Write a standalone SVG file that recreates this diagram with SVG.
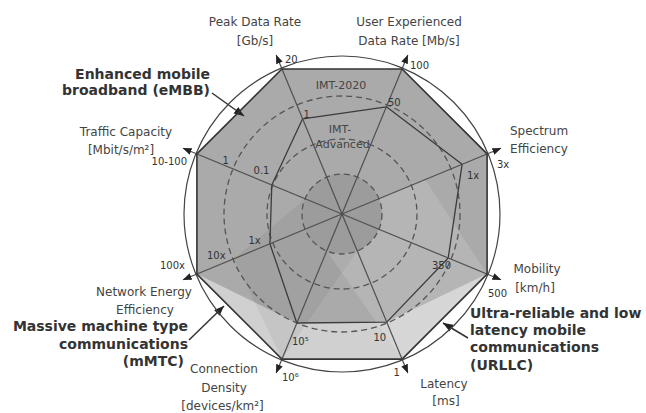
<svg xmlns="http://www.w3.org/2000/svg" width="646" height="413" viewBox="0 0 646 413">
  <defs>
    <marker id="spokeHead" markerUnits="userSpaceOnUse" markerWidth="10" markerHeight="8" refX="8.5" refY="3.5" orient="auto">
      <path d="M0,0 L9,3.5 L0,7 z" fill="#222"/>
    </marker>
    <marker id="calloutHead" markerUnits="userSpaceOnUse" markerWidth="12" markerHeight="10" refX="10" refY="4" orient="auto">
      <path d="M0,0 L10,4 L0,8 z" fill="#222"/>
    </marker>
    <style>
      .title { font-family: "DejaVu Sans", "Liberation Sans", sans-serif; font-size: 12px; fill: #444; }
      .val { font-family: "DejaVu Sans", "Liberation Sans", sans-serif; font-size: 10px; fill: #333; }
      .imt { font-family: "DejaVu Sans", "Liberation Sans", sans-serif; font-size: 11px; fill: #444; }
      .scen { font-family: "DejaVu Sans", "Liberation Sans", sans-serif; font-size: 14px; font-weight: bold; fill: #333; }
      .mid { text-anchor: middle; }
      .end { text-anchor: end; }
      .spoke { stroke: #505050; stroke-width: 1.2; fill: none; }
      .ring { stroke: #555; stroke-width: 1.3; fill: none; stroke-dasharray: 6 4; }
      .adv { stroke: #3c3c3c; stroke-width: 1.3; fill: none; stroke-linejoin: round; }
      .callout { stroke: #333; stroke-width: 1.5; fill: none; }
    </style>
  </defs>

  <!-- shaded capability areas -->
  <g id="shading">
    <polygon id="imt2020-area" points="196.9,153.9 281.9,69 402.1,69 487.1,153.9 487.1,274.1 402.1,359.1 281.9,359.1 196.9,274.1" fill="#d0d0d0"/>
    <polygon id="embb-area" points="196.9,153.9 281.9,69 402.1,69 487.1,153.9 487.1,274.1 386.8,322.1 296.8,323 196.9,274.1" fill="#000" fill-opacity="0.18"/>
    <polygon id="mmtc-area" points="305,198.7 326.7,177 357.3,177 379,198.7 379,229.3 357.3,251 281.9,359.1 233.9,258.8" fill="#000" fill-opacity="0.05"/>
    <polygon id="urllc-area" points="342,214 425.1,179.6 487.1,274.1 402.1,359.1 326.7,251" fill="#fff" fill-opacity="0.13"/>
    <circle id="core-area" cx="342" cy="214" r="40" fill="#9c9c9c"/>
  </g>

  <!-- reference rings -->
  <g id="rings">
    <circle class="ring" cx="342" cy="214" r="40"/>
    <circle class="ring" cx="342" cy="214" r="75"/>
    <circle class="ring" cx="342" cy="214" r="118"/>
  </g>

  <!-- IMT-Advanced outline -->
  <g id="imt-advanced">
    <polygon class="adv" points="271.8,184.9 302.6,118.8 386.4,106.8 462.1,164.3 448.2,258 386.8,322.1 296.8,323 269.9,243.8"/>
  </g>

  <!-- axes and callout arrows -->
  <g id="connectors">
    <line class="spoke" x1="342" y1="214" x2="276.2" y2="55.1" marker-end="url(#spokeHead)"/>
    <line class="spoke" x1="342" y1="214" x2="407.8" y2="55.1" marker-end="url(#spokeHead)"/>
    <line class="spoke" x1="342" y1="214" x2="500.9" y2="148.2" marker-end="url(#spokeHead)"/>
    <line class="spoke" x1="342" y1="214" x2="500.9" y2="279.8" marker-end="url(#spokeHead)"/>
    <line class="spoke" x1="342" y1="214" x2="407.8" y2="372.9" marker-end="url(#spokeHead)"/>
    <line class="spoke" x1="342" y1="214" x2="276.2" y2="372.9" marker-end="url(#spokeHead)"/>
    <line class="spoke" x1="342" y1="214" x2="183.1" y2="279.8" marker-end="url(#spokeHead)"/>
    <line class="spoke" x1="342" y1="214" x2="183.1" y2="148.2" marker-end="url(#spokeHead)"/>
    <line class="callout" x1="212" y1="93" x2="244" y2="116" marker-end="url(#calloutHead)"/>
    <line class="callout" x1="189" y1="340" x2="224" y2="306" marker-end="url(#calloutHead)"/>
    <line class="callout" x1="468" y1="338" x2="443" y2="323" marker-end="url(#calloutHead)"/>
  </g>

  <!-- IMT-2020 outline and bounding circle -->
  <g id="frame">
    <polygon points="196.9,153.9 281.9,69 402.1,69 487.1,153.9 487.1,274.1 402.1,359.1 281.9,359.1 196.9,274.1" fill="none" stroke="#333" stroke-width="1.6" stroke-linejoin="round"/>
    <circle cx="342" cy="214" r="158" fill="none" stroke="#444" stroke-width="1.2"/>
  </g>

  <g id="ring-labels">
    <text class="imt mid" x="341" y="89">IMT-2020</text>
    <text class="imt mid" x="340" y="133">IMT-</text>
    <text class="imt mid" x="342.5" y="148">Advanced</text>
  </g>

  <g id="axis-peak">
    <text class="title mid" x="255" y="26">Peak Data Rate</text>
    <text class="title mid" x="255" y="45">[Gb/s]</text>
    <text class="val" x="285" y="63">20</text>
    <text class="val" x="303.5" y="118">1</text>
  </g>

  <g id="axis-user">
    <text class="title mid" x="409" y="26">User Experienced</text>
    <text class="title mid" x="409" y="45">Data Rate [Mb/s]</text>
    <text class="val" x="410" y="69">100</text>
    <text class="val" x="388" y="106">50</text>
  </g>

  <g id="axis-spectrum">
    <text class="title mid" x="539" y="135">Spectrum</text>
    <text class="title mid" x="539" y="153">Efficiency</text>
    <text class="val" x="497" y="168">3x</text>
    <text class="val" x="467" y="179">1x</text>
  </g>

  <g id="axis-mobility">
    <text class="title mid" x="537" y="273">Mobility</text>
    <text class="title mid" x="535" y="292">[km/h]</text>
    <text class="val" x="488" y="297">500</text>
    <text class="val" x="432" y="269">350</text>
  </g>

  <g id="axis-latency">
    <text class="title mid" x="444" y="388">Latency</text>
    <text class="title mid" x="446" y="405">[ms]</text>
    <text class="val" x="393.5" y="376">1</text>
    <text class="val" x="373.5" y="341">10</text>
  </g>

  <g id="axis-connection">
    <text class="title mid" x="224" y="373">Connection</text>
    <text class="title mid" x="224" y="392">Density</text>
    <text class="title mid" x="222.5" y="410">[devices/km²]</text>
    <text class="val" x="282" y="381">10⁶</text>
    <text class="val" x="292" y="345">10⁵</text>
  </g>

  <g id="axis-energy">
    <text class="title mid" x="144" y="296">Network Energy</text>
    <text class="title mid" x="145" y="314">Efficiency</text>
    <text class="val end" x="185" y="269">100x</text>
    <text class="val" x="207" y="259">10x</text>
    <text class="val" x="248.5" y="244">1x</text>
  </g>

  <g id="axis-traffic">
    <text class="title mid" x="126" y="136">Traffic Capacity</text>
    <text class="title mid" x="121" y="154">[Mbit/s/m²]</text>
    <text class="val end" x="187" y="165">10-100</text>
    <text class="val mid" x="225.8" y="164">1</text>
    <text class="val mid" x="261.5" y="174">0.1</text>
  </g>

  <g id="scenario-embb">
    <text class="scen end" x="210" y="79">Enhanced mobile</text>
    <text class="scen end" x="210" y="95">broadband (eMBB)</text>
  </g>

  <g id="scenario-mmtc">
    <text class="scen end" x="188" y="331">Massive machine type</text>
    <text class="scen end" x="188" y="349">communications</text>
    <text class="scen end" x="184" y="366">(mMTC)</text>
  </g>

  <g id="scenario-urllc">
    <text class="scen" x="470" y="318">Ultra-reliable and low</text>
    <text class="scen" x="470" y="335">latency mobile</text>
    <text class="scen" x="470" y="352">communications</text>
    <text class="scen" x="470" y="370">(URLLC)</text>
  </g>
</svg>
